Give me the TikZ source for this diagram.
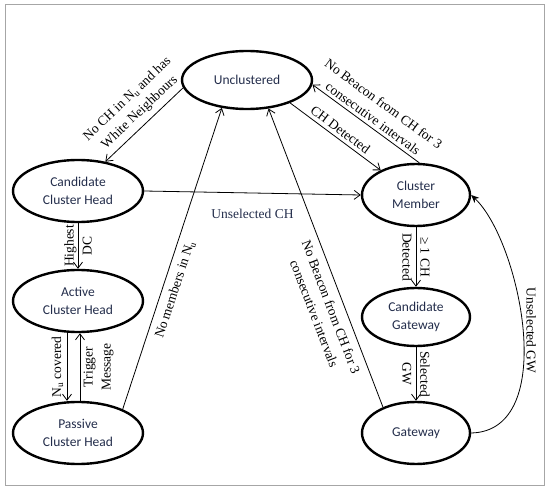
\documentclass[tikz,border=0pt]{standalone}
\usepackage{fontspec}
\setmainfont{Liberation Serif}
\newfontfamily\statefont{Carlito}
\usetikzlibrary{shapes.geometric,arrows.meta}
\definecolor{navy}{RGB}{35,45,75}

\begin{document}
\begin{tikzpicture}[x=1pt,y=1pt,line width=0.8pt,
  >={Straight Barb[length=6pt,width=9pt]},
  state/.style={ellipse,draw,line width=2.4pt,inner sep=0pt,align=center,
    text=navy,font=\statefont\fontsize{13.5}{18.5}\selectfont},
  wide/.style={minimum width=130pt,minimum height=62pt},
  narrow/.style={minimum width=108pt,minimum height=62pt},
  lbl/.style={font=\fontsize{13.5}{18}\selectfont,align=center}]
  \useasboundingbox (0,0) rectangle (550,491);
  \draw[gray!70,line width=1pt] (5,6) rectangle (544,486);

  \node[state,wide,minimum height=58pt] (uncl) at (247,411) {Unclustered};
  \node[state,wide] (cch) at (78,300) {Candidate\\Cluster Head};
  \node[state,wide] (ach) at (78,190) {Active\\Cluster Head};
  \node[state,wide] (pch) at (78,58) {Passive\\Cluster Head};
  \node[state,narrow] (cm) at (416,296) {Cluster\\Member};
  \node[state,narrow,minimum height=58pt] (cgw) at (416,174) {Candidate\\Gateway};
  \node[state,narrow] (gw) at (416,58) {Gateway};

  \draw[->] (uncl.187) -- node[lbl,sloped,above=2pt,pos=0.45] {No CH in N\textsubscript{u} and has\\White Neighbours} (cch.47);
  \draw[->] (cch.east) -- node[lbl,below=12pt,text=navy] {Unselected CH} (cm.west);
  \draw[->] (uncl.-28) -- node[lbl,sloped,above] {CH Detected} (cm.145);
  \draw[->] (cm.84) -- node[lbl,sloped,above,pos=0.48] {No Beacon from CH for 3\\consecutive intervals} (uncl.-4);
  \draw[->] (cch.south) -- node[lbl,rotate=90] {Highest\\DC} (ach.north);
  \draw[->] ([xshift=-11pt]ach.south) -- node[lbl,rotate=90,above] {N\textsubscript{u} covered} ([xshift=-11pt]pch.north);
  \draw[->] ([xshift=2pt]pch.north) -- node[lbl,rotate=90,below] {Trigger\\Message} ([xshift=2pt]ach.south);
  \draw[->] (pch.28) -- node[lbl,sloped,below=3pt,pos=0.41] {No members in N\textsubscript{u}} (uncl.228);
  \draw[->] (gw.142) -- node[lbl,sloped,below=4pt,pos=0.35] {No Beacon from CH for 3\\consecutive intervals} (uncl.-53);
  \draw[->] (cm.south) -- node[lbl,rotate=-90] {≥ 1 CH\\Detected} (cgw.north);
  \draw[->] (cgw.south) -- node[lbl,rotate=-90] {Selected\\GW} (gw.north);
  \draw[-{Stealth[length=8pt,width=7pt]}] (gw.east) .. controls (560,60) and (520,250) .. node[lbl,rotate=-90,above] {Unselected GW} (cm.east);
\end{tikzpicture}
\end{document}
